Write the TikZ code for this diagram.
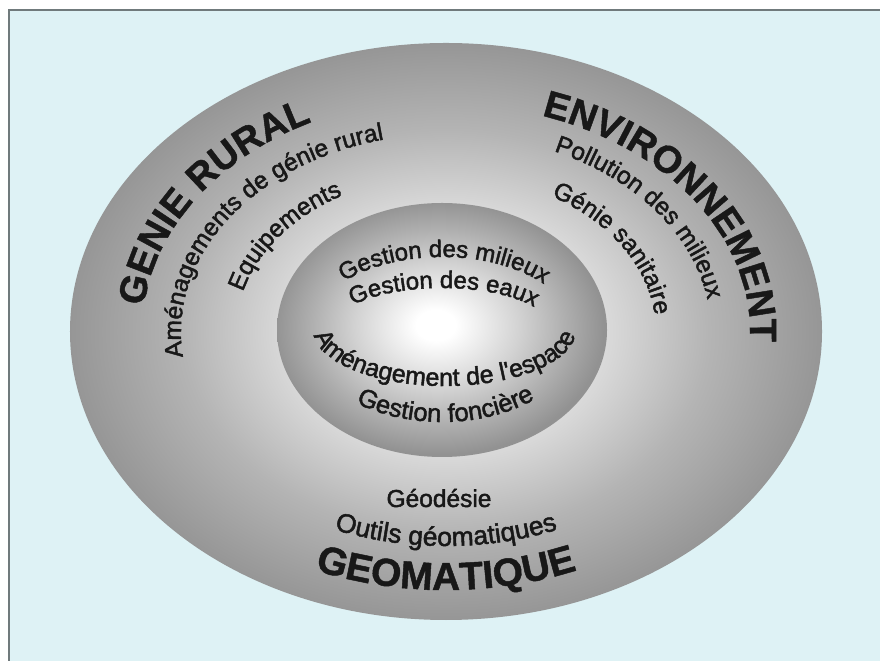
\documentclass[tikz,border=0pt]{standalone}
\usepackage{fontspec}
\setmainfont{Liberation Sans}
\newfontfamily\medfont[FakeBold=1.8]{Liberation Sans}
\newfontfamily\heavyfont[FakeBold=1.2]{Liberation Sans Bold}
\usetikzlibrary{shapes.geometric,decorations.text}
\definecolor{bgblue}{HTML}{DEF2F5}
\definecolor{frameline}{HTML}{707A7C}
\definecolor{txt}{HTML}{181818}
\definecolor{ga}{RGB}{216,216,216}
\definecolor{gb}{RGB}{180,180,180}
\definecolor{gc}{RGB}{150,150,150}
\definecolor{ia}{RGB}{210,210,210}
\definecolor{ib}{RGB}{176,176,176}
\definecolor{ic}{RGB}{146,146,146}
\pgfdeclareradialshading{outerfade}{\pgfpoint{0bp}{0bp}}{color(0bp)=(white); color(11bp)=(ga); color(17.5bp)=(gb); color(25bp)=(gc); color(50bp)=(gc)}
\pgfdeclareradialshading{innerfade}{\pgfpoint{-1bp}{1bp}}{color(0bp)=(white); color(3bp)=(white); color(12.5bp)=(ia); color(19bp)=(ib); color(25bp)=(ic); color(50bp)=(ic)}
\newcommand\fbig{\heavyfont\fontsize{38bp}{42bp}\selectfont}
\newcommand\fmid{\medfont\fontsize{24.5bp}{28bp}\selectfont}
\newcommand\finner{\medfont\fontsize{24bp}{27bp}\selectfont}
\tikzset{
  curvetext/.style={decorate, decoration={text along path, text={#1}, text align=center, text color=txt}},
  ring/.style={ellipse, draw=none, inner sep=0pt},
}
\begin{document}
\begin{tikzpicture}[x=1bp, y=1bp]
\useasboundingbox (0,0) rectangle (880,661);
\fill[white] (0,0) rectangle (880,661);
\fill[bgblue] (9,0) rectangle (880,651);
\draw[frameline, line width=1.2bp] (9,0) -- (9,651) -- (880,651);

\node[ring, shading=outerfade, minimum width=752bp, minimum height=577bp] (outer) at (446,329.5) {};
\node[ring, shading=innerfade, minimum width=330bp, minimum height=254bp] (inner) at (442,331) {};

\coordinate (C) at (446,329);
\coordinate (I) at (442,331);
\coordinate (J) at (445,331);

% outer ring, left
\path[curvetext={|\fbig|GENIE RURAL}] ([shift={(188.5:304 and 234)}]C) arc[start angle=188.5, end angle=104.5, x radius=304, y radius=234];
\path[curvetext={|\fmid|Aménagements de génie rural}] ([shift={(201.5:265 and 198)}]C) arc[start angle=201.5, end angle=92.5, x radius=265, y radius=198];
\path[curvetext={|\fmid|Equipements}] ([shift={(176:210 and 157)}]C) arc[start angle=176, end angle=111, x radius=210, y radius=157];

% outer ring, right
\path[curvetext={|\fbig|ENVIRONNEMENT}] ([shift={(82:304 and 228)}]C) arc[start angle=82, end angle=-16, x radius=304, y radius=228];
\path[curvetext={|\fmid|Pollution des milieux}] ([shift={(77:265 and 198)}]C) arc[start angle=77, end angle=-5, x radius=265, y radius=198];
\path[curvetext={|\fmid|Génie sanitaire}] ([shift={(67:210 and 157)}]C) arc[start angle=67, end angle=-3, x radius=210, y radius=157];

% outer ring, bottom
\path[curvetext={|\heavyfont\fontsize{39bp}{42bp}\selectfont|GEOMATIQUE}] ([shift={(234:340 and 258)}]C) arc[start angle=234, end angle=306, x radius=340, y radius=258];
\path[curvetext={|\medfont\fontsize{26.5bp}{30bp}\selectfont|Outils géomatiques}] ([shift={(234:290 and 214)}]C) arc[start angle=234, end angle=306, x radius=290, y radius=214];
\node[anchor=base, inner sep=0pt, text=txt, font=\fmid] (geod) at (439,154) {Géodésie};

% inner ellipse
\path[curvetext={|\finner|Gestion des milieux}] ([shift={(152:131 and 73)}]I) arc[start angle=152, end angle=25, x radius=131, y radius=73];
\path[curvetext={|\finner|Gestion des eaux}] ([shift={(162:110 and 42)}]I) arc[start angle=162, end angle=14, x radius=110, y radius=42];
\path[curvetext={|\medfont\fontsize{25bp}{28bp}\selectfont|Aménagement de l'espace}] ([shift={(160:131 and 56)}]J) arc[start angle=160, end angle=380, x radius=131, y radius=56];
\path[curvetext={|\medfont\fontsize{25.5bp}{28bp}\selectfont|Gestion foncière}] ([shift={(220:141 and 92)}]I) arc[start angle=220, end angle=324, x radius=141, y radius=92];
\end{tikzpicture}
\end{document}
